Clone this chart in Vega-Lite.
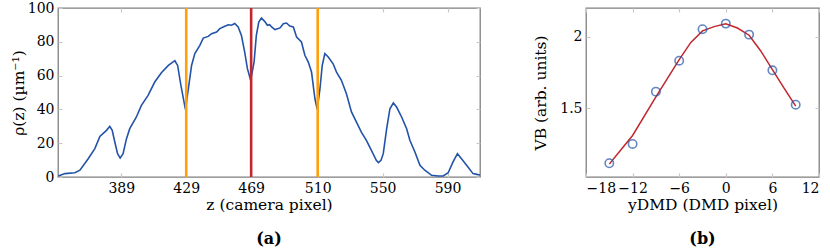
{
  "$schema": "https://vega.github.io/schema/vega-lite/v6.json",
  "background": "white",
  "padding": {"left": 10, "top": 0, "right": 2, "bottom": 0},
  "spacing": 52,
  "config": {
    "font": "DejaVu Serif",
    "view": {"stroke": "#7f7f7f", "strokeWidth": 1.3},
    "axis": {
      "domain": false, "ticks": false,
      "labelFont": "DejaVu Serif", "labelFontSize": 14, "labelColor": "#000", "labelPadding": 4,
      "titleFont": "DejaVu Serif", "titleFontSize": 15.5, "titleFontWeight": "normal", "titleColor": "#000", "titlePadding": 2,
      "gridColor": "#c8c8c8", "gridWidth": 1.2
    },
    "title": {"font": "DejaVu Serif", "fontSize": 16, "fontWeight": "bold", "color": "#000"}
  },
  "hconcat": [
    {
      "width": 422, "height": 169,
      "title": {"text": "(a)", "orient": "bottom", "frame": "group", "anchor": "middle", "offset": 18},
      "layer": [
        {
          "data": {"values": [
            {"z": 350.2, "rho": 0.6}, {"z": 354.3, "rho": 2.0}, {"z": 360.4, "rho": 2.5}, {"z": 363.5, "rho": 4.0},
            {"z": 368.6, "rho": 10.8}, {"z": 372.7, "rho": 16.8}, {"z": 375.8, "rho": 24.0}, {"z": 379.9, "rho": 27.6},
            {"z": 381.9, "rho": 30.0}, {"z": 383.4, "rho": 27.6}, {"z": 385.0, "rho": 20.7}, {"z": 386.7, "rho": 13.8},
            {"z": 388.3, "rho": 11.2}, {"z": 390.1, "rho": 13.8}, {"z": 392.2, "rho": 22.7}, {"z": 394.2, "rho": 28.6},
            {"z": 398.3, "rho": 35.5}, {"z": 401.4, "rho": 42.4}, {"z": 405.5, "rho": 48.3}, {"z": 409.6, "rho": 56.2},
            {"z": 413.7, "rho": 61.7}, {"z": 418.0, "rho": 66.0}, {"z": 422.0, "rho": 68.8}, {"z": 423.7, "rho": 66.0},
            {"z": 425.7, "rho": 54.3}, {"z": 428.5, "rho": 40.0}, {"z": 430.3, "rho": 52.2}, {"z": 432.3, "rho": 66.0},
            {"z": 434.3, "rho": 73.0}, {"z": 437.4, "rho": 77.9}, {"z": 439.5, "rho": 82.2}, {"z": 442.6, "rho": 83.2},
            {"z": 444.6, "rho": 84.8}, {"z": 447.7, "rho": 85.8}, {"z": 449.7, "rho": 87.8}, {"z": 452.8, "rho": 89.2},
            {"z": 454.9, "rho": 90.1}, {"z": 456.9, "rho": 89.8}, {"z": 458.9, "rho": 90.8}, {"z": 461.0, "rho": 88.8},
            {"z": 463.0, "rho": 83.8}, {"z": 465.0, "rho": 74.0}, {"z": 466.7, "rho": 64.1}, {"z": 468.7, "rho": 57.2},
            {"z": 470.8, "rho": 68.0}, {"z": 472.2, "rho": 83.8}, {"z": 473.7, "rho": 91.7}, {"z": 475.3, "rho": 94.1},
            {"z": 477.3, "rho": 92.1}, {"z": 479.0, "rho": 89.8}, {"z": 480.4, "rho": 90.1}, {"z": 481.6, "rho": 88.8},
            {"z": 483.7, "rho": 87.2}, {"z": 486.8, "rho": 88.2}, {"z": 488.8, "rho": 90.7}, {"z": 490.8, "rho": 91.1},
            {"z": 492.8, "rho": 89.3}, {"z": 495.0, "rho": 88.8}, {"z": 497.0, "rho": 82.8}, {"z": 500.0, "rho": 79.9},
            {"z": 502.1, "rho": 72.0}, {"z": 504.2, "rho": 68.0}, {"z": 506.2, "rho": 62.1}, {"z": 508.3, "rho": 46.3},
            {"z": 509.7, "rho": 40.0}, {"z": 511.4, "rho": 52.2}, {"z": 512.8, "rho": 66.0}, {"z": 514.4, "rho": 73.0},
            {"z": 516.5, "rho": 71.0}, {"z": 519.5, "rho": 67.0}, {"z": 521.6, "rho": 62.1}, {"z": 524.6, "rho": 57.2},
            {"z": 527.7, "rho": 49.3}, {"z": 530.8, "rho": 38.5}, {"z": 533.9, "rho": 32.5}, {"z": 536.9, "rho": 26.6},
            {"z": 540.0, "rho": 21.7}, {"z": 543.1, "rho": 15.8}, {"z": 546.1, "rho": 9.9}, {"z": 547.4, "rho": 8.5},
            {"z": 549.0, "rho": 9.9}, {"z": 550.4, "rho": 13.8}, {"z": 552.5, "rho": 28.6}, {"z": 554.5, "rho": 40.4},
            {"z": 556.6, "rho": 43.8}, {"z": 558.6, "rho": 41.4}, {"z": 561.7, "rho": 35.5}, {"z": 564.8, "rho": 28.6},
            {"z": 566.8, "rho": 21.7}, {"z": 569.9, "rho": 14.8}, {"z": 573.0, "rho": 6.9}, {"z": 576.0, "rho": 4.0},
            {"z": 580.2, "rho": 1.0}, {"z": 584.2, "rho": 0.6}, {"z": 587.3, "rho": 0.6}, {"z": 590.4, "rho": 2.5},
            {"z": 593.4, "rho": 8.9}, {"z": 596.1, "rho": 13.8}, {"z": 598.6, "rho": 10.8}, {"z": 602.6, "rho": 5.9},
            {"z": 605.7, "rho": 2.0}, {"z": 608.8, "rho": 1.4}, {"z": 610.0, "rho": 1.2}
          ]},
          "mark": {"type": "line", "color": "#2353a8", "strokeWidth": 1.6, "clip": true},
          "encoding": {
            "x": {"field": "z", "type": "quantitative",
                  "scale": {"domain": [350, 610], "nice": false, "zero": false},
                  "axis": {"values": [389, 429, 469, 510, 550, 590], "format": "d", "title": "z (camera pixel)", "gridDash": [4, 161]}},
            "y": {"field": "rho", "type": "quantitative",
                  "scale": {"domain": [0, 100], "nice": false},
                  "axis": {"values": [0, 20, 40, 60, 80, 100], "title": "ρ(z) (µm⁻¹)", "titlePadding": 1, "gridDash": [4, 414]}}
          }
        },
        {
          "data": {"values": [{"z": 429, "c": "o"}, {"z": 469, "c": "r"}, {"z": 510, "c": "o"}]},
          "mark": {"type": "rule", "strokeWidth": 2.6},
          "encoding": {
            "x": {"field": "z", "type": "quantitative"},
            "color": {"field": "c", "type": "nominal", "scale": {"domain": ["o", "r"], "range": ["#ffa00a", "#c1272d"]}, "legend": null}
          }
        }
      ]
    },
    {
      "width": 233, "height": 169,
      "title": {"text": "(b)", "orient": "bottom", "frame": "group", "anchor": "middle", "offset": 18},
      "layer": [
        {
          "data": {"values": [
            {"y": -15, "f": 1.11}, {"y": -13.5, "f": 1.21}, {"y": -12, "f": 1.31}, {"y": -9, "f": 1.58},
            {"y": -6, "f": 1.84}, {"y": -4.5, "f": 1.96}, {"y": -3, "f": 2.04}, {"y": -1.5, "f": 2.07},
            {"y": 0, "f": 2.09}, {"y": 1.5, "f": 2.06}, {"y": 3, "f": 2.01}, {"y": 4.5, "f": 1.9},
            {"y": 6, "f": 1.77}, {"y": 7.5, "f": 1.64}, {"y": 9, "f": 1.515}
          ]},
          "mark": {"type": "line", "color": "#c1272d", "strokeWidth": 1.5},
          "encoding": {
            "x": {"field": "y", "type": "quantitative",
                  "scale": {"domain": [-18, 12], "nice": false, "zero": false},
                  "axis": {"values": [-18, -12, -6, 0, 6, 12], "title": "yDMD (DMD pixel)", "gridDash": [4, 161]}},
            "y": {"field": "f", "type": "quantitative",
                  "scale": {"domain": [1.02, 2.2], "nice": false, "zero": false},
                  "axis": {"values": [1.5, 2], "format": ".2~f", "title": "VB (arb. units)", "titlePadding": 11, "gridDash": [4, 225]}}
          }
        },
        {
          "data": {"values": [
            {"y": -15, "v": 1.116}, {"y": -12, "v": 1.251}, {"y": -9, "v": 1.616}, {"y": -6, "v": 1.832},
            {"y": -3, "v": 2.052}, {"y": 0, "v": 2.091}, {"y": 3, "v": 2.014}, {"y": 6, "v": 1.765}, {"y": 9, "v": 1.525}
          ]},
          "mark": {"type": "point", "shape": "circle", "filled": false, "color": "#2353a8", "size": 70, "strokeWidth": 1.6},
          "encoding": {
            "x": {"field": "y", "type": "quantitative"},
            "y": {"field": "v", "type": "quantitative"}
          }
        }
      ]
    }
  ]
}
